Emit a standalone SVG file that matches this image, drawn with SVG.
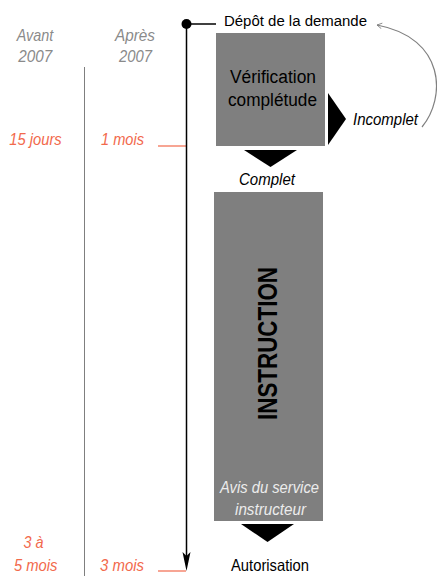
<svg xmlns="http://www.w3.org/2000/svg" width="437" height="576" viewBox="0 0 437 576">
<defs>
<style>
text{font-family:"Liberation Sans",Arial,sans-serif}
.hdr{font-size:16.5px;font-style:italic;fill:#8a8a8a;text-anchor:middle}
.dur{font-size:16.5px;font-style:italic;fill:#f2694c;text-anchor:middle}
.box{fill:#7f7f7f}
.tri{fill:#000}
.lbl{font-size:16.5px;fill:#000;text-anchor:middle}
.it{font-style:italic}
</style>
<marker id="open" viewBox="0 0 10 10" refX="8" refY="5" markerWidth="7" markerHeight="7" orient="auto" markerUnits="userSpaceOnUse">
<path d="M1 1 L8 5 L1 9" fill="none" stroke="#808080" stroke-width="1.2"/>
</marker>
</defs>
<rect width="437" height="576" fill="#fff"/>

<g id="headers">
<text class="hdr" x="35" y="41" textLength="36.5" lengthAdjust="spacingAndGlyphs">Avant</text>
<text class="hdr" x="35.3" y="62" textLength="34" lengthAdjust="spacingAndGlyphs">2007</text>
<text class="hdr" x="135" y="41" textLength="40" lengthAdjust="spacingAndGlyphs">Après</text>
<text class="hdr" x="135.5" y="62" textLength="33" lengthAdjust="spacingAndGlyphs">2007</text>
</g>

<g id="durations">
<text class="dur" x="35.5" y="145" textLength="52.4" lengthAdjust="spacingAndGlyphs">15 jours</text>
<text class="dur" x="122.5" y="145" textLength="43" lengthAdjust="spacingAndGlyphs">1 mois</text>
<text class="dur" x="33.5" y="548" textLength="20" lengthAdjust="spacingAndGlyphs">3 à</text>
<text class="dur" x="35.7" y="571" textLength="43.5" lengthAdjust="spacingAndGlyphs">5 mois</text>
<text class="dur" x="122" y="571" textLength="44" lengthAdjust="spacingAndGlyphs">3 mois</text>
</g>

<g id="connectors">
<line x1="84.5" y1="67" x2="84.5" y2="576" stroke="#7f7f7f" stroke-width="1"/>
<line x1="158" y1="146" x2="186" y2="146" stroke="#f2694c" stroke-width="1.2"/>
<line x1="158" y1="571" x2="186" y2="571" stroke="#f2694c" stroke-width="1.2"/>
<line x1="186.5" y1="24" x2="186.5" y2="556" stroke="#000" stroke-width="1.5"/>
<polygon points="182.5,552 186.5,556 190.5,552 186.5,571" fill="#000"/>
<circle cx="186.5" cy="24" r="5" fill="#000"/>
<line x1="186.5" y1="24" x2="216" y2="24" stroke="#000" stroke-width="1.5"/>
<path d="M422 127 C446 98 446 38 377 25" fill="none" stroke="#808080" stroke-width="1.2" marker-end="url(#open)"/>
</g>

<g id="depot">
<text class="lbl" x="224" y="26" style="text-anchor:start;font-size:15.5px" textLength="143" lengthAdjust="spacingAndGlyphs">Dépôt de la demande</text>
</g>

<g id="verification">
<rect class="box" x="216" y="33" width="109" height="113"/>
<text class="lbl" x="273" y="83" style="font-size:18px" textLength="86" lengthAdjust="spacingAndGlyphs">Vérification</text>
<text class="lbl" x="272.5" y="106" style="font-size:18px" textLength="89" lengthAdjust="spacingAndGlyphs">complétude</text>
</g>

<g id="incomplet">
<polygon class="tri" points="328,93 346,119 328,145"/>
<text class="lbl it" x="385.5" y="125" textLength="65" lengthAdjust="spacingAndGlyphs">Incomplet</text>
</g>

<g id="complet">
<polygon class="tri" points="244,150 297,150 270.5,167"/>
<text class="lbl it" x="267" y="185" textLength="56" lengthAdjust="spacingAndGlyphs">Complet</text>
</g>

<g id="instruction">
<rect class="box" x="214" y="192" width="109" height="329"/>
<text x="0" y="0" transform="translate(277,343.5) rotate(-90)" text-anchor="middle" font-weight="bold" font-size="27" textLength="153" lengthAdjust="spacingAndGlyphs" fill="#000">INSTRUCTION</text>
<text class="lbl it" x="269.5" y="493" style="fill:#ececec" textLength="99" lengthAdjust="spacingAndGlyphs">Avis du service</text>
<text class="lbl it" x="270.5" y="515" style="fill:#ececec" textLength="71" lengthAdjust="spacingAndGlyphs">instructeur</text>
</g>

<g id="autorisation">
<polygon class="tri" points="241,524 294,524 267.5,542"/>
<text class="lbl" x="270" y="571" textLength="78" lengthAdjust="spacingAndGlyphs">Autorisation</text>
</g>
</svg>
